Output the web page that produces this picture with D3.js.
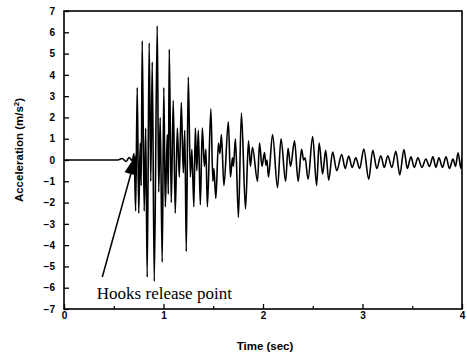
<!DOCTYPE html>
<html>
<head>
<meta charset="utf-8">
<script src="https://cdn.jsdelivr.net/npm/d3@7"></script>
<style>
  body { margin: 0; background: #fff; }
  svg { display: block; }
</style>
</head>
<body>
<div id="chart"></div>
<script>
// time (sec) / acceleration (m/s2), peaks and troughs
const trace = [
  [0, 0], [0.54, 0], [0.584, 0.07], [0.625, -0.07], [0.655, 0.12], [0.685, -0.02],
  [0.705, 0.3], [0.720, -2.4], [0.736, 3.4], [0.751, -2.5], [0.766, 0.8], [0.776, -1.2],
  [0.786, 5.6], [0.806, -2.4], [0.821, 1.5], [0.836, -5.5], [0.856, 5.5], [0.872, -1.0],
  [0.887, 4.6], [0.907, -5.7], [0.937, 6.3], [0.952, -1.5], [0.967, 2.0], [0.987, -4.8],
  [1.003, 3.4], [1.018, -2.2], [1.038, 1.2], [1.048, -1.6], [1.058, 5.2], [1.078, -2.0],
  [1.098, 2.8], [1.118, -2.5], [1.139, 1.5], [1.159, -0.8], [1.179, 2.7], [1.199, -0.6],
  [1.214, 1.4], [1.229, -4.3], [1.249, 3.9], [1.270, -0.8], [1.285, 0.5], [1.305, -2.2],
  [1.320, 1.5], [1.335, -0.5], [1.350, 1.4], [1.370, -2.1], [1.390, 1.5], [1.411, -0.3],
  [1.426, 0.5], [1.441, -2.2], [1.476, 2.4], [1.496, -1.0], [1.506, -0.4], [1.526, -1.8],
  [1.552, 0.8], [1.567, 0.3], [1.582, 1.2], [1.607, -1.2], [1.652, 1.8], [1.673, -0.8],
  [1.693, 0.1], [1.703, -0.3], [1.723, 1.0], [1.753, -2.7], [1.783, 2.2], [1.824, -2.3],
  [1.854, 0.9], [1.874, -0.3], [1.894, 0.6], [1.945, -1.0], [1.965, 0.8], [1.990, -0.3],
  [2.015, 0.35], [2.030, -0.25], [2.040, 0.0], [2.055, -0.8], [2.096, 1.2], [2.146, -1.3],
  [2.181, 1.0], [2.227, -1.0], [2.252, 0.55], [2.277, -0.3], [2.317, 0.9], [2.353, -1.0],
  [2.388, 0.5], [2.408, 0.0], [2.423, 0.1], [2.453, -0.9], [2.499, 1.1], [2.539, -1.2],
  [2.564, 0.8], [2.599, -0.65], [2.630, 0.45], [2.660, -0.95], [2.700, 0.37], [2.741, -0.5],
  [2.791, 0.26], [2.826, -0.4], [2.861, 0.18], [2.897, -0.35], [2.932, 0.1], [2.972, -0.4],
  [3.013, 0.52], [3.063, -0.9], [3.103, 0.46], [3.144, -0.4], [3.184, 0.2], [3.219, -0.35],
  [3.254, 0.2], [3.295, -0.35], [3.335, 0.41], [3.375, -0.7], [3.416, 0.49], [3.451, -0.4],
  [3.486, 0.15], [3.521, -0.35], [3.557, 0.1], [3.597, -0.35], [3.637, 0.05], [3.673, -0.3],
  [3.708, 0.15], [3.738, -0.35], [3.768, 0.1], [3.804, -0.35], [3.839, 0.15], [3.874, -0.4],
  [3.909, 0.05], [3.935, -0.3], [3.960, 0.34], [3.990, -0.4], [4.0, 0.1]
];

const xTicks = [0, 1, 2, 3, 4];
const xMinorTicks = [0.5, 1.5, 2.5, 3.5];
const yTicks = [-7, -6, -5, -4, -3, -2, -1, 0, 1, 2, 3, 4, 5, 6, 7];

// annotation: label and arrow (tail / head in data units)
const noteText = "Hooks release point";
const arrowFrom = [0.385, -5.5];
const arrowTo = [0.725, 0.25];

const W = 467, H = 356;
const margin = { top: 11, right: 5, bottom: 47, left: 64 };
const width = W - margin.left - margin.right;
const height = H - margin.top - margin.bottom;

const svg = d3.select("#chart").append("svg")
  .attr("width", W)
  .attr("height", H);

const g = svg.append("g")
  .attr("transform", "translate(" + margin.left + "," + margin.top + ")");

const x = d3.scaleLinear().domain([0, 4]).range([0, width]);
const y = d3.scaleLinear().domain([-7, 7]).range([height, 0]);

svg.append("defs").append("clipPath").attr("id", "clip")
  .append("rect").attr("width", width).attr("height", height);

// signal
const line = d3.line()
  .curve(d3.curveMonotoneX)
  .x(d => x(d[0]))
  .y(d => y(d[1]));

g.append("path")
  .attr("clip-path", "url(#clip)")
  .attr("d", line(trace))
  .attr("fill", "none")
  .attr("stroke", "#000")
  .attr("stroke-width", 1.6)
  .attr("stroke-linejoin", "round");

// frame
g.append("rect")
  .attr("width", width).attr("height", height)
  .attr("fill", "none").attr("stroke", "#000").attr("stroke-width", 1.6);

const tickFont = "bold 10px 'Liberation Sans', Arial, sans-serif";

// y axis, ticks pointing in
const yAxis = g.append("g")
  .call(d3.axisLeft(y).tickValues(yTicks).tickSize(-5).tickPadding(9).tickFormat(d3.format("d")));
yAxis.select(".domain").remove();
yAxis.selectAll("line").attr("stroke-width", 1.3);
yAxis.selectAll("text").style("font", tickFont).attr("fill", "#000");

// x axis
const xAxis = g.append("g")
  .attr("transform", "translate(0," + height + ")")
  .call(d3.axisBottom(x).tickValues(xTicks).tickSize(-5).tickPadding(3).tickFormat(d3.format("d")));
xAxis.select(".domain").remove();
xAxis.selectAll("line").attr("stroke-width", 1.3);
xAxis.selectAll("text").style("font", tickFont).attr("fill", "#000");

g.append("g")
  .attr("transform", "translate(0," + height + ")")
  .call(d3.axisBottom(x).tickValues(xMinorTicks).tickSize(-3).tickFormat(""))
  .call(a => a.select(".domain").remove())
  .selectAll("line").attr("stroke-width", 1.2);

// axis titles
svg.append("text")
  .attr("x", margin.left + width / 2 + 2)
  .attr("y", 350)
  .attr("text-anchor", "middle")
  .style("font", "bold 11.5px 'Liberation Sans', Arial, sans-serif")
  .text("Time (sec)");

const yTitle = svg.append("text")
  .attr("transform", "translate(23,150) rotate(-90)")
  .attr("text-anchor", "middle")
  .style("font", "bold 11.5px 'Liberation Sans', Arial, sans-serif");
yTitle.append("tspan").text("Acceleration (m/s");
yTitle.append("tspan").attr("dy", -4).style("font-size", "8px").text("2");
yTitle.append("tspan").attr("dy", 4).text(")");

// annotation arrow: shaft plus a filled head built along its direction
const ax1 = x(arrowFrom[0]), ay1 = y(arrowFrom[1]);
const ax2 = x(arrowTo[0]), ay2 = y(arrowTo[1]);
const ang = Math.atan2(ay2 - ay1, ax2 - ax1);
const headLen = 20, headHalf = 6.5;
const bx = ax2 - headLen * Math.cos(ang), by = ay2 - headLen * Math.sin(ang);

g.append("line")
  .attr("x1", ax1).attr("y1", ay1)
  .attr("x2", bx).attr("y2", by)
  .attr("stroke", "#000").attr("stroke-width", 1.5);

g.append("path")
  .attr("d", "M" + ax2 + "," + ay2 +
    "L" + (bx + headHalf * Math.sin(ang)) + "," + (by - headHalf * Math.cos(ang)) +
    "L" + (bx - headHalf * Math.sin(ang)) + "," + (by + headHalf * Math.cos(ang)) + "Z")
  .attr("fill", "#000");

g.append("text")
  .attr("x", x(0.33)).attr("y", y(-6.55))
  .style("font", "17px 'Liberation Serif', 'Times New Roman', serif")
  .attr("fill", "#000")
  .text(noteText);
</script>
</body>
</html>
